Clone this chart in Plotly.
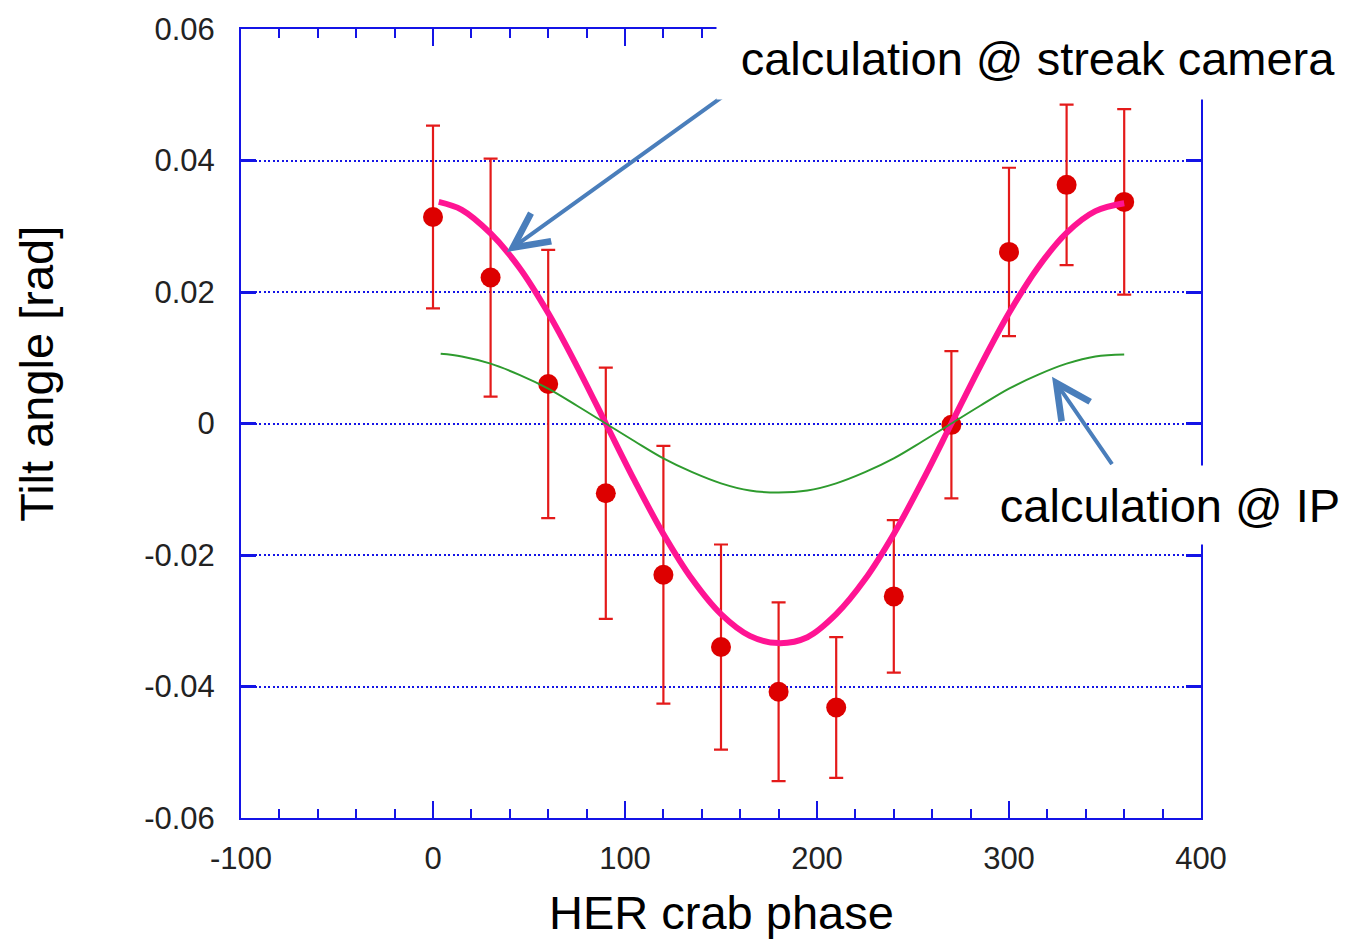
import plotly.graph_objects as go

# Measured tilt angle vs. HER crab phase
phase = [0, 30, 60, 90, 120, 150, 180, 210, 240, 270, 300, 330, 360]
tilt = [0.0314, 0.0222, 0.0060, -0.0106, -0.0230, -0.0340, -0.0408,
        -0.0432, -0.0263, -0.0002, 0.0261, 0.0363, 0.0337]
tilt_err = [0.0139, 0.0181, 0.0204, 0.0191, 0.0196, 0.0156, 0.0136,
            0.0107, 0.0116, 0.0112, 0.0128, 0.0122, 0.0141]

# Calculated tilt at the streak camera
calc_phase = [3, 15, 30, 45, 60, 75, 90, 105, 120, 135, 150, 165, 180,
              195, 210, 225, 240, 255, 270, 285, 300, 315, 330, 345, 360]
calc_streak = [0.0337, 0.0325, 0.0289, 0.0237, 0.0168, 0.0087, 0.0000,
               -0.0087, -0.0168, -0.0237, -0.0290, -0.0323, -0.0334,
               -0.0325, -0.0290, -0.0237, -0.0168, -0.0087, 0.0000,
               0.0087, 0.0168, 0.0237, 0.0290, 0.0323, 0.0335]

# Calculated tilt at the IP
ip_phase = [4, 15, 30, 45, 60, 75, 90, 105, 120, 135, 150, 165, 180,
            195, 210, 225, 240, 255, 270, 285, 300, 315, 330, 345, 360]
calc_ip = [0.0106, 0.0102, 0.0091, 0.0074, 0.0053, 0.0027, 0.0000,
           -0.0027, -0.0053, -0.0074, -0.0091, -0.0102, -0.0105,
           -0.0102, -0.0091, -0.0074, -0.0053, -0.0027, 0.0000,
           0.0027, 0.0053, 0.0074, 0.0091, 0.0102, 0.0105]

x_ticks = [-100, 0, 100, 200, 300, 400]
x_tick_labels = ["-100", "0", "100", "200", "300", "400"]
y_ticks = [-0.06, -0.04, -0.02, 0, 0.02, 0.04, 0.06]
y_tick_labels = ["-0.06", "-0.04", "-0.02", "0", "0.02", "0.04", "0.06"]

AXIS_BLUE = "#1414e6"
ARROW_BLUE = "#4a7ebb"
FONT = "Liberation Sans, Arial, sans-serif"

fig = go.Figure()

fig.add_trace(go.Scatter(
    x=phase, y=tilt, mode="markers",
    marker=dict(color="#dd0000", size=20, symbol="circle"),
    error_y=dict(type="data", array=tilt_err, visible=True,
                 color="#e41a1a", thickness=2.2, width=7),
    showlegend=False,
))
fig.add_trace(go.Scatter(
    x=calc_phase, y=calc_streak, mode="lines",
    line=dict(color="#ff1493", width=6, shape="spline"),
    showlegend=False,
))
fig.add_trace(go.Scatter(
    x=ip_phase, y=calc_ip, mode="lines",
    line=dict(color="#2e9b2e", width=2, shape="spline"),
    showlegend=False,
))

axis_common = dict(
    showline=True, linecolor=AXIS_BLUE, linewidth=2, mirror="ticks",
    ticks="inside", tickcolor=AXIS_BLUE, zeroline=False,
    tickfont=dict(family=FONT, size=31, color="#222222"),
)

fig.update_xaxes(
    **axis_common,
    range=[-100, 400], tickvals=x_ticks, ticktext=x_tick_labels,
    ticklen=17, tickwidth=2, showgrid=False,
    minor=dict(dtick=20, tick0=0, ticks="inside", ticklen=9, tickwidth=2,
               tickcolor=AXIS_BLUE, showgrid=False),
    ticklabelstandoff=12,
)
fig.update_yaxes(
    **axis_common,
    range=[-0.06, 0.06], tickvals=y_ticks, ticktext=y_tick_labels,
    ticklen=15, tickwidth=3,
    showgrid=True, gridcolor=AXIS_BLUE, gridwidth=1.5, griddash="2px,2.5px",
    ticklabelstandoff=18,
)

annotations = [
    # arrows (drawn first, text boxes sit on top of them)
    dict(x=38.5, y=0.0261, ax=154.5, ay=0.0505, xref="x", yref="y",
         axref="x", ayref="y", text="", showarrow=True, arrowhead=5,
         arrowsize=1.7, arrowwidth=4, arrowcolor=ARROW_BLUE),
    dict(x=322.4, y=0.0071, ax=354.2, ay=-0.0064, xref="x", yref="y",
         axref="x", ayref="y", text="", showarrow=True, arrowhead=5,
         arrowsize=1.7, arrowwidth=4, arrowcolor=ARROW_BLUE),
    # labels
    dict(text="calculation @ streak camera", xref="paper", yref="paper",
         x=(716 - 241) / 960, y=(818 - 12) / 794, xanchor="left", yanchor="top",
         width=642, height=81, bgcolor="white", borderpad=0, showarrow=False,
         font=dict(family=FONT, size=47, color="black")),
    dict(text="calculation @ IP", xref="paper", yref="paper",
         x=(985 - 241) / 960, y=(818 - 463) / 794, xanchor="left", yanchor="top",
         width=368, height=78, bgcolor="white", borderpad=0, showarrow=False,
         font=dict(family=FONT, size=47, color="black")),
    # axis titles
    dict(text="HER crab phase", xref="paper", yref="paper",
         x=0.5, y=(818 - 913) / 794, xanchor="center", yanchor="middle",
         showarrow=False, font=dict(family=FONT, size=47, color="black")),
    dict(text="Tilt angle [rad]", xref="paper", yref="paper",
         x=(37 - 241) / 960, y=(818 - 371) / 794, xanchor="center", yanchor="middle",
         textangle=-90, showarrow=False,
         font=dict(family=FONT, size=47, color="black")),
]

fig.update_layout(
    width=1350, height=940,
    margin=dict(l=241, r=149, t=24, b=122),
    plot_bgcolor="white", paper_bgcolor="white",
    annotations=annotations,
    showlegend=False,
)

fig.write_html("out.html")
